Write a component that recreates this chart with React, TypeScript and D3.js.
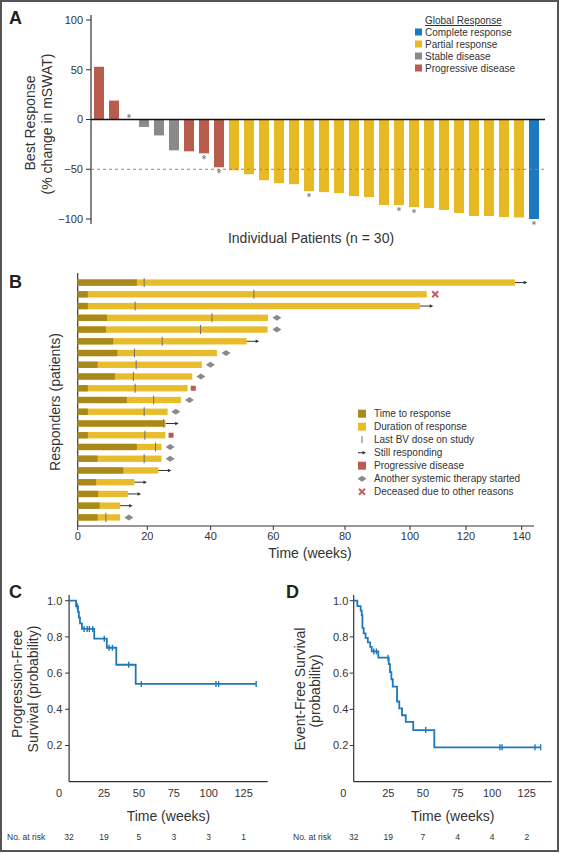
import React from "react";
import * as d3 from "d3";

const W = 562;
const H = 853;
const FONT = "'Liberation Sans', Arial, Helvetica, sans-serif";

// ---------------- Panel A data ----------------
const patientIds = [1,2,3,4,5,6,7,8,9,10,11,12,13,14,15,16,17,18,19,20,21,22,23,24,25,26,27,28,29,30];
const bestResponse = [53, 19, 0, -7.5, -16, -31, -32, -34, -48, -51, -55, -61, -64, -65, -72, -73, -74, -77, -78, -86, -86, -88, -89, -91, -94, -97, -97, -98, -98.5, -100];
const globalResponse = ["PD","PD","PD","SD","SD","SD","PD","PD","PD",
  "PR","PR","PR","PR","PR","PR","PR","PR","PR","PR","PR","PR","PR","PR","PR","PR","PR","PR","PR","PR","CR"];
const asteriskPatients = [3, 8, 9, 15, 21, 22, 30];
const aTicks = [100, 50, 0, -50, -100];
const responseKeys = ["CR", "PR", "SD", "PD"];
const responseLabels = ["Complete response", "Partial response", "Stable disease", "Progressive disease"];
const responseColors = ["#1b79c0", "#e7b925", "#8a8a8a", "#b85c4e"];

// ---------------- Panel B data ----------------
const responderIds = [1,2,3,4,5,6,7,8,9,10,11,12,13,14,15,16,17,18,19,20,21];
const timeToResponse = [17, 2.9, 2.9, 8.4, 8.1, 10.2, 11.4, 5.7, 10.7, 2.9, 14.1, 2.9, 25.3, 2.9, 17, 5.7, 13.1, 5.3, 5.9, 6.3, 5.7];
const responseEnd = [137.6, 106, 103.6, 58.3, 58.2, 51.5, 42, 37.2, 34.2, 32.7, 30.6, 26.4, 25.8, 25.7, 24.5, 24.5, 23.5, 16.3, 14.4, 12.2, 12.2];
const lastDose = [19.1, 53.8, 16.5, 40.4, 36.8, 24.7, 16.3, 16.8, 16, 16.5, 22, 19.1, 25.2, 19.3, 22.6, 19.1, null, null, null, null, 8.1];
const outcomeType = ["arrow","death","arrow","therapy","therapy","arrow","therapy","therapy","therapy","pd","therapy","therapy","arrow","pd","therapy","therapy","arrow","arrow","arrow","arrow","therapy"];
const outcomeTime = [142, 109, 108.3, 61, 61, 55.5, 44.9, 39.9, 36.9, 34.5, 33.3, 29, 29.9, 27.5, 27.2, 27.2, 27.6, 19.9, 18.2, 15.8, 14.7];
const bTicks = [0, 20, 40, 60, 80, 100, 120, 140];
const bLegend = ["Time to response", "Duration of response", "Last BV dose on study", "Still responding", "Progressive disease", "Another systemic therapy started", "Deceased due to other reasons"];

// ---------------- Panel C data (PFS) ----------------
const pfsStepTimes = [5, 6.4, 7.0, 7.8, 9.2, 18, 27, 33.8, 47.7];
const pfsStepSurv = [0.969, 0.938, 0.906, 0.875, 0.844, 0.79, 0.74, 0.646, 0.54];
const pfsEnd = 134;
const pfsCensor = [5.9, 10.7, 13, 14.5, 16.9, 25.2, 28.6, 31, 42.7, 51.7, 105.2, 107.1, 134];
const pfsAtRisk = [32, 19, 5, 3, 3, 1];

// ---------------- Panel D data (EFS) ----------------
const efsStepTimes = [2.6, 5.0, 5.8, 6.3, 7.2, 8.6, 10.2, 11.9, 13.0, 17.8, 25.3, 26.2, 27.2, 28.2, 31.3, 32.9, 34.9, 37.6, 43.0, 58.2];
const efsStepSurv = [0.97, 0.945, 0.92, 0.85, 0.82, 0.795, 0.77, 0.745, 0.72, 0.685, 0.65, 0.605, 0.566, 0.525, 0.443, 0.405, 0.367, 0.33, 0.285, 0.19];
const efsEnd = 135;
const efsCensor = [14.5, 16.4, 24.8, 52, 105.6, 107.1, 130.9, 135];
const efsAtRisk = [32, 19, 7, 4, 4, 2];

const kmTicksX = [0, 25, 50, 75, 100, 125];
const kmTicksY = [0.2, 0.4, 0.6, 0.8, 1.0];

const AXIS = "#333";
const TXT = "#333";
const BLUE = "#1f78b8";
const DARK_GOLD = "#a9891c";
const GOLD = "#e9bc2b";
const RED = "#b95c50";
const GREY = "#8a8a8a";

function KMPanel(props: any) {
  const { x0, x1, xAxisEnd, times, surv, end, censor, atRisk, titleLines, titleX, letter, letterX, tickLabelX, zeroLabelX, riskLabelX } = props;
  const x = d3.scaleLinear().domain([0, 125]).range([x0, x1]);
  const y = d3.scaleLinear().domain([0, 1]).range([781.7, 600.7]);
  const pts: [number, number][] = [[0, 1]];
  times.forEach((t: number, i: number) => pts.push([t, surv[i]]));
  pts.push([end, surv[surv.length - 1]]);
  const line = d3.line<[number, number]>().x(d => x(d[0])).y(d => y(d[1])).curve(d3.curveStepAfter);
  const survAt = (t: number) => {
    let s = 1;
    times.forEach((tt: number, i: number) => { if (tt <= t) s = surv[i]; });
    return s;
  };
  const xMid = (x0 + xAxisEnd) / 2;
  return (
    <g>
      <text x={letterX} y={598} fontSize={18} fontWeight="bold" fill="#222">{letter}</text>
      <line x1={x0} x2={x0} y1={595} y2={781.7} stroke={AXIS} strokeWidth={1.2} />
      <line x1={x0} x2={xAxisEnd} y1={781.7} y2={781.7} stroke={AXIS} strokeWidth={1.2} />
      {kmTicksY.map(v => (
        <g key={v}>
          <line x1={x0 - 4} x2={x0} y1={y(v)} y2={y(v)} stroke={AXIS} strokeWidth={1} />
          <text x={tickLabelX} y={y(v)} dy="0.35em" textAnchor="end" fontSize={11} fill={TXT}>{v.toFixed(1)}</text>
        </g>
      ))}
      {kmTicksX.map(v => (
        <text key={v} x={v === 0 ? zeroLabelX : x(v)} y={797} textAnchor="middle" fontSize={11} fill={TXT}>{v}</text>
      ))}
      <text x={xMid} y={821} textAnchor="middle" fontSize={14} fill={TXT}>Time (weeks)</text>
      {titleLines.map((l: string, i: number) => (
        <text key={i} transform={`translate(${titleX[i]},${titleX[2 + i]}) rotate(-90)`} textAnchor="middle" dominantBaseline="central" fontSize={14} fill={TXT}>{l}</text>
      ))}
      <path d={line(pts) || ""} fill="none" stroke={BLUE} strokeWidth={1.8} />
      {censor.map((c: number, i: number) => (
        <line key={i} x1={x(c)} x2={x(c)} y1={y(survAt(c)) - 3} y2={y(survAt(c)) + 3} stroke={BLUE} strokeWidth={1.4} />
      ))}
      <text x={riskLabelX} y={840} fontSize={8.5} fill={TXT}>No. at risk</text>
      {atRisk.map((n: number, i: number) => (
        <text key={i} x={x(kmTicksX[i])} y={840} textAnchor="middle" fontSize={8.5} fill={TXT}>{n}</text>
      ))}
    </g>
  );
}

export default function App() {
  // ---------- Panel A scales ----------
  const xA = d3.scaleBand<number>().domain(patientIds).range([91.5, 541.5]).paddingInner(0.333).paddingOuter(0.167);
  const yA = d3.scaleLinear().domain([-100, 100]).range([219, 20]);
  const colorA = d3.scaleOrdinal<string, string>().domain(responseKeys).range(responseColors);
  const fmt = d3.format("d");
  const star = d3.symbol().type(d3.symbolAsterisk).size(14)();

  // ---------- Panel B scales ----------
  const xB = d3.scaleLinear().domain(bTicks).range([77.7, 147.3, 210.7, 273.3, 345, 410, 466, 521.7]);
  const yB = d3.scaleBand<number>().domain(responderIds).range([274, 526]).padding(0.46);
  const barH = yB.bandwidth();

  const diamond = (cx: number, cy: number) => `M${cx - 4.5},${cy}L${cx},${cy - 3}L${cx + 4.5},${cy}L${cx},${cy + 3}Z`;
  const cross = (cx: number, cy: number) => `M${cx - 3},${cy - 3}L${cx + 3},${cy + 3}M${cx - 3},${cy + 3}L${cx + 3},${cy - 3}`;
  const arrowHead = (cx: number, cy: number) => `M${cx},${cy}L${cx - 3.5},${cy - 1.8}L${cx - 3.5},${cy + 1.8}Z`;

  return (
    <svg width={W} height={H} style={{ position: "absolute", left: 0, top: 0, fontFamily: FONT, background: "#fff" }}>
      <rect x={0} y={0} width={W} height={H} fill="#fff" />
      <rect x={1} y={1} width={557} height={850} fill="none" stroke="#555" strokeWidth={2} />

      {/* ================= Panel A ================= */}
      <text x={9} y={24} fontSize={18} fontWeight="bold" fill="#222">A</text>
      <line x1={91} x2={91} y1={15} y2={224} stroke={AXIS} strokeWidth={1.2} />
      {aTicks.map(v => (
        <g key={v}>
          <line x1={86} x2={91} y1={yA(v)} y2={yA(v)} stroke={AXIS} strokeWidth={1} />
          <text x={83} y={yA(v)} dy="0.35em" textAnchor="end" fontSize={11} fill={TXT}>{fmt(v)}</text>
        </g>
      ))}
      <text transform="translate(30,123) rotate(-90)" textAnchor="middle" dominantBaseline="central" fontSize={14} fill={TXT}>Best Response</text>
      <text transform="translate(47,124) rotate(-90)" textAnchor="middle" dominantBaseline="central" fontSize={14} fill={TXT}>(% change in mSWAT)</text>
      {patientIds.map((p, i) => {
        const v = bestResponse[i];
        return (
          <rect key={p} x={xA(p)} width={xA.bandwidth()} y={Math.min(yA(v), yA(0))} height={Math.abs(yA(v) - yA(0))} fill={colorA(globalResponse[i])} />
        );
      })}
      <line x1={91} x2={545} y1={yA(-50)} y2={yA(-50)} stroke="#c8705f" strokeWidth={1} strokeDasharray="3,3" />
      <line x1={91} x2={545} y1={yA(0)} y2={yA(0)} stroke="#111" strokeWidth={1.3} />
      {asteriskPatients.map(p => {
        const v = bestResponse[p - 1];
        const cy = v >= 0 ? yA(v) - 3.5 : yA(v) + 4;
        return <path key={p} d={star || ""} transform={`translate(${(xA(p) || 0) + xA.bandwidth() / 2},${cy})`} fill="#555" stroke="#555" strokeWidth={0.6} />;
      })}
      <text x={311} y={243} textAnchor="middle" fontSize={14} fill={TXT}>Individual Patients (n = 30)</text>
      {/* legend A */}
      <text x={425} y={24} fontSize={10} fill={TXT} textDecoration="underline">Global Response</text>
      {responseKeys.map((k, i) => (
        <g key={k}>
          <rect x={415} y={28.5 + i * 12} width={7} height={7} fill={colorA(k)} />
          <text x={425} y={35.5 + i * 12} fontSize={10} fill={TXT}>{responseLabels[i]}</text>
        </g>
      ))}

      {/* ================= Panel B ================= */}
      <text x={9} y={288} fontSize={18} fontWeight="bold" fill="#222">B</text>
      <line x1={77.7} x2={77.7} y1={273} y2={526} stroke={AXIS} strokeWidth={1.2} />
      <line x1={77.7} x2={534} y1={526} y2={526} stroke={AXIS} strokeWidth={1.2} />
      {bTicks.map(t => (
        <g key={t}>
          <line x1={xB(t)} x2={xB(t)} y1={526} y2={530} stroke={AXIS} strokeWidth={1} />
          <text x={xB(t)} y={540} textAnchor="middle" fontSize={11} fill={TXT}>{t}</text>
        </g>
      ))}
      <text x={310} y={558} textAnchor="middle" fontSize={14} fill={TXT}>Time (weeks)</text>
      <text transform="translate(55,402) rotate(-90)" textAnchor="middle" dominantBaseline="central" fontSize={14} fill={TXT}>Responders (patients)</text>
      {responderIds.map((r, i) => {
        const yTop = yB(r) || 0;
        const cy = yTop + barH / 2;
        const endX = xB(responseEnd[i]);
        const ot = outcomeType[i];
        const ox = xB(outcomeTime[i]);
        return (
          <g key={r}>
            <rect x={xB(0)} y={yTop} width={endX - xB(0)} height={barH} fill={GOLD} />
            <rect x={xB(0)} y={yTop} width={xB(timeToResponse[i]) - xB(0)} height={barH} fill={DARK_GOLD} />
            {lastDose[i] != null && (
              <line x1={xB(lastDose[i] as number)} x2={xB(lastDose[i] as number)} y1={cy - 4.5} y2={cy + 4.5} stroke="#6f6f6f" strokeWidth={1} />
            )}
            {ot === "arrow" && (
              <g>
                <line x1={endX} x2={ox - 2} y1={cy} y2={cy} stroke="#333" strokeWidth={1} />
                <path d={arrowHead(ox, cy)} fill="#333" />
              </g>
            )}
            {ot === "therapy" && <path d={diamond(ox, cy)} fill={GREY} />}
            {ot === "pd" && <rect x={ox - 2.5} y={cy - 2.5} width={5} height={5} fill={RED} />}
            {ot === "death" && <path d={cross(ox, cy)} stroke="#c0625c" strokeWidth={2} />}
          </g>
        );
      })}
      {/* legend B */}
      {bLegend.map((lab, i) => {
        const cy = 413.7 + i * 13;
        const mx = 362;
        let marker: any = null;
        if (i === 0) marker = <rect x={mx - 4} y={cy - 4} width={8} height={8} fill={DARK_GOLD} />;
        if (i === 1) marker = <rect x={mx - 4} y={cy - 4} width={8} height={8} fill={GOLD} />;
        if (i === 2) marker = <line x1={mx} x2={mx} y1={cy - 3.5} y2={cy + 3.5} stroke="#6f6f6f" strokeWidth={1} />;
        if (i === 3) marker = <g><line x1={mx - 4} x2={mx + 2} y1={cy} y2={cy} stroke="#333" strokeWidth={1} /><path d={arrowHead(mx + 4, cy)} fill="#333" /></g>;
        if (i === 4) marker = <rect x={mx - 4} y={cy - 4} width={8} height={8} fill={RED} />;
        if (i === 5) marker = <path d={diamond(mx, cy)} fill={GREY} />;
        if (i === 6) marker = <path d={cross(mx, cy)} stroke="#c0625c" strokeWidth={2} />;
        return (
          <g key={lab}>
            {marker}
            <text x={374} y={cy} dy="0.35em" fontSize={10} fill={TXT}>{lab}</text>
          </g>
        );
      })}

      {/* ================= Panel C ================= */}
      <KMPanel x0={69.1} x1={243.6} xAxisEnd={267.7} times={pfsStepTimes} surv={pfsStepSurv} end={pfsEnd} censor={pfsCensor}
        atRisk={pfsAtRisk} titleLines={["Progression-Free", "Survival (probability)"]} titleX={[17, 33, 684, 689]}
        letter="C" letterX={9} tickLabelX={62.3} zeroLabelX={59} riskLabelX={7} />

      {/* ================= Panel D ================= */}
      <KMPanel x0={353.7} x1={526.8} xAxisEnd={551.7} times={efsStepTimes} surv={efsStepSurv} end={efsEnd} censor={efsCensor}
        atRisk={efsAtRisk} titleLines={["Event-Free Survival", "(probability)"]} titleX={[300, 315, 689, 691]}
        letter="D" letterX={286} tickLabelX={348.3} zeroLabelX={343.3} riskLabelX={293} />
    </svg>
  );
}
